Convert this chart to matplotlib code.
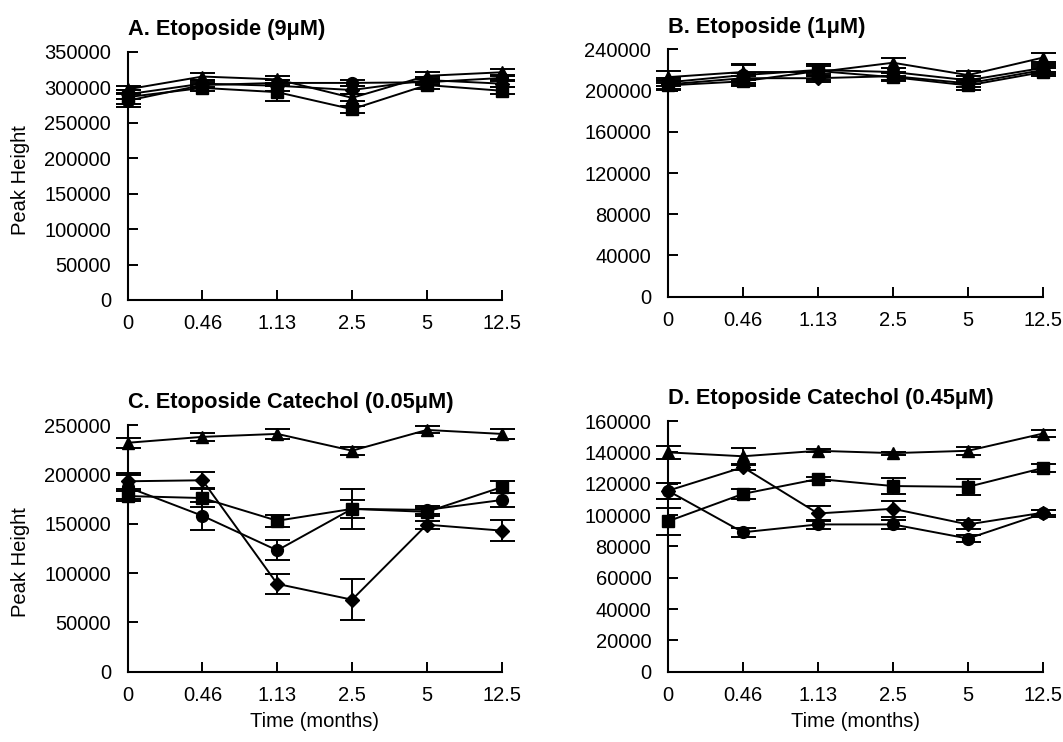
import numpy as np
import matplotlib.pyplot as plt

plt.rcParams['font.family'] = ['Liberation Sans', 'DejaVu Sans']

times = ['0', '0.46', '1.13', '2.5', '5', '12.5']

# A. Etoposide (9uM)
a_triangle = [297000, 315000, 311000, 285000, 316000, 321000]
a_circle = [281000, 303000, 306000, 306000, 307000, 313000]
a_diamond = [290000, 305000, 302000, 296000, 310000, 305000]
a_square = [286000, 299000, 293000, 269000, 303000, 295000]
a_triangle_err = [5000, 5000, 5000, 5000, 5000, 5000]
a_circle_err = [9000, 4000, 4000, 4000, 4000, 4000]
a_diamond_err = [6000, 5000, 8000, 5000, 5000, 5000]
a_square_err = [10000, 5000, 12000, 5000, 5000, 5000]

# B. Etoposide (1uM)
b_triangle = [213000, 218000, 218000, 227000, 215000, 232000]
b_circle = [208000, 215000, 220000, 218000, 210000, 222000]
b_diamond = [206000, 212000, 212000, 214000, 207000, 220000]
b_square = [205000, 209000, 219000, 213000, 205000, 218000]
b_triangle_err = [6000, 8000, 8000, 5000, 4000, 4000]
b_circle_err = [4000, 10000, 6000, 4000, 4000, 4000]
b_diamond_err = [4000, 5000, 4000, 4000, 4000, 4000]
b_square_err = [4000, 5000, 5000, 4000, 4000, 4000]

# C. Etoposide Catechol (0.05uM)
c_triangle = [232000, 238000, 241000, 224000, 245000, 241000]
c_circle = [187000, 158000, 123000, 165000, 164000, 174000]
c_diamond = [193000, 194000, 89000, 73000, 149000, 143000]
c_square = [178000, 176000, 153000, 165000, 162000, 187000]
c_triangle_err = [5000, 4000, 5000, 4000, 3500, 5000]
c_circle_err = [12000, 14000, 10000, 9000, 4000, 7000]
c_diamond_err = [8000, 8000, 10000, 21000, 4000, 10500]
c_square_err = [5000, 9000, 6000, 20000, 4000, 6000]

# D. Etoposide Catechol (0.45uM)
d_triangle = [140000, 137500, 141000, 139500, 141000, 152000]
d_circle = [115500, 89000, 94000, 94000, 85000, 101000]
d_diamond = [115500, 130500, 101000, 104000, 94000, 101500]
d_square = [96000, 113500, 123000, 118500, 118000, 130000]
d_triangle_err = [4000, 5500, 1000, 1000, 2500, 2000]
d_circle_err = [5000, 3000, 3000, 3000, 2000, 2000]
d_diamond_err = [5000, 2000, 5000, 5000, 3000, 1500]
d_square_err = [8500, 3000, 1000, 5000, 5000, 2500]

panels = [
    ("A. Etoposide (9\u03bcM)", [0.1201, 0.5957, 0.3518, 0.3346], 350000, 50000,
     [(a_triangle, a_triangle_err), (a_circle, a_circle_err),
      (a_diamond, a_diamond_err), (a_square, a_square_err)], True, False, 0.483),
    ("B. Etoposide (1\u03bcM)", [0.6284, 0.6001, 0.3528, 0.3334], 240000, 40000,
     [(b_triangle, b_triangle_err), (b_circle, b_circle_err),
      (b_diamond, b_diamond_err), (b_square, b_square_err)], False, False, 0.5),
    ("C. Etoposide Catechol (0.05\u03bcM)", [0.1201, 0.0947, 0.3518, 0.3325], 250000, 50000,
     [(c_triangle, c_triangle_err), (c_circle, c_circle_err),
      (c_diamond, c_diamond_err), (c_square, c_square_err)], True, True, 0.445),
    ("D. Etoposide Catechol (0.45\u03bcM)", [0.6284, 0.0947, 0.3528, 0.3379], 160000, 20000,
     [(d_triangle, d_triangle_err), (d_circle, d_circle_err),
      (d_diamond, d_diamond_err), (d_square, d_square_err)], False, True, 0.5),
]

markers = ['^', 'o', 'D', 's']
msizes = [8.5, 8.5, 7, 8.5]

fig = plt.figure(figsize=(10.63, 7.42), dpi=100)
x = np.arange(len(times))

for title, pos, ymax, ystep, series, ylab, xlab, ly in panels:
    ax = fig.add_axes(pos)
    for (vals, errs), m, ms in zip(series, markers, msizes):
        ax.errorbar(x, vals, yerr=errs, fmt='-', marker=m, ms=ms, color='black',
                    lw=1.4, elinewidth=1.4, capsize=9, capthick=1.4, clip_on=False)
    ax.set_xlim(0, 5)
    ax.set_ylim(0, ymax)
    ax.set_xticks(x)
    ax.set_xticklabels(times)
    ax.set_yticks(np.arange(0, ymax + 1, ystep))
    for s in ['top', 'right']:
        ax.spines[s].set_visible(False)
    for s in ['left', 'bottom']:
        ax.spines[s].set_linewidth(1.5)
    ax.tick_params(direction='in', length=7, width=1.4, labelsize=14.5)
    ax.tick_params(axis='y', pad=12)
    ax.tick_params(axis='x', pad=10)
    ax.set_title(title, loc='left', fontsize=15.7, fontweight='bold', pad=12)
    if ylab:
        ax.set_ylabel('Peak Height', fontsize=14.5)
        ax.yaxis.set_label_coords(-0.26, ly)
    if xlab:
        ax.set_xlabel('Time (months)', fontsize=14.5, labelpad=5)

fig.savefig('out.png', dpi=100)
